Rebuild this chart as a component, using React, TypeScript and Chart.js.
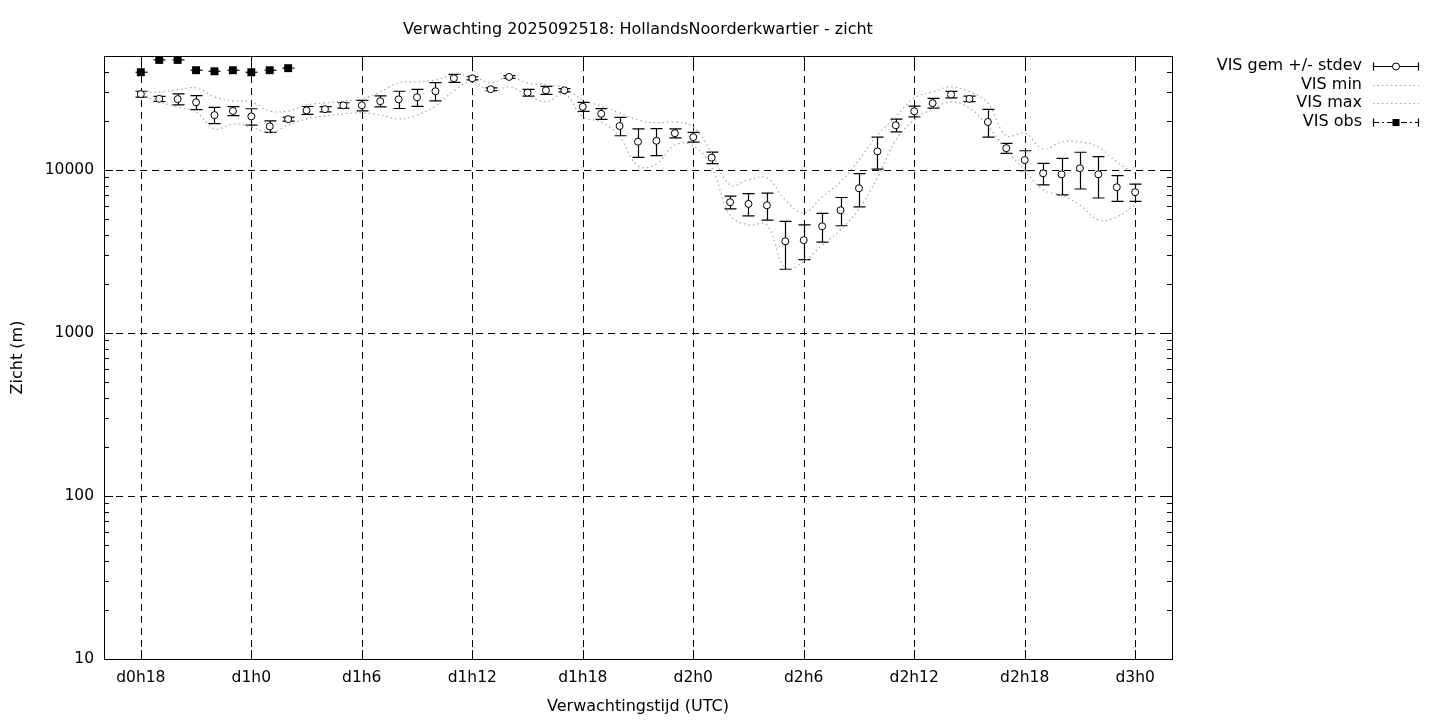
import React, { useEffect, useRef } from 'react';
import { Chart, registerables } from 'chart.js';

Chart.register(...registerables);

const TITLE = 'Verwachting 2025092518: HollandsNoorderkwartier - zicht';
const X_TITLE = 'Verwachtingstijd (UTC)';
const Y_TITLE = 'Zicht (m)';

const hours = [
  18, 19, 20, 21, 22, 23, 24, 25, 26, 27, 28, 29, 30, 31, 32, 33, 34, 35, 36,
  37, 38, 39, 40, 41, 42, 43, 44, 45, 46, 47, 48, 49, 50, 51, 52, 53, 54, 55,
  56, 57, 58, 59, 60, 61, 62, 63, 64, 65, 66, 67, 68, 69, 70, 71, 72,
];

const visMean = [
  29200, 27300, 27200, 26000, 21700, 23000, 21300, 18500, 20500, 23200, 23600,
  24900, 24900, 26400, 27100, 27900, 30400, 36500, 36500, 31300, 37200, 29800,
  30800, 30800, 24400, 22100, 18600, 14900, 15100, 16800, 15900, 11900, 6340,
  6190, 6070, 3650, 3710, 4510, 5660, 7720, 13000, 18800, 22900, 25700, 29000,
  27300, 19700, 13600, 11500, 9540, 9400, 10240, 9400, 7830, 7300,
];

const visStdev = [
  1200, 1000, 2100, 2580, 2480, 1480, 2440, 1520, 575, 1300, 880, 930, 1850,
  2040, 3280, 3330, 3880, 2080, 800, 600, 700, 1410, 1750, 700, 1540, 1650,
  2390, 2960, 2850, 1060, 1090, 980, 575, 965, 1145, 1190, 893, 900, 1114,
  1780, 2885, 1690, 1720, 1780, 1320, 1055, 3800, 960, 1610, 1440, 2370, 2600,
  2670, 1410, 890,
];

const visMin = [
  28850, 26140, 24350, 22690, 17850, 19150, 18360, 16870, 18890, 20550, 21450,
  22060, 22370, 21750, 20550, 21750, 24700, 30530, 34670, 30100, 32300, 28850,
  26140, 29260, 21150, 19700, 15940, 10580, 10880, 14230, 14040, 10400, 5295,
  4600, 4600, 2505, 2727, 3466, 4283, 5763, 8930, 15280, 20270, 23670, 26140,
  24010, 18620, 13260, 10000, 7540, 7025, 6100, 4935, 5150, 6100,
];

const visMax = [
  30100, 30100, 30960, 31850, 28040, 26500, 26140, 23010, 23010, 25050, 25760,
  26500, 27270, 30100, 34190, 34670, 35650, 38250, 37730, 34190, 37200, 34190,
  33230, 31850, 26880, 24700, 22370, 20270, 19430, 19700, 18360, 12710, 8090,
  8685, 8930, 6545, 5445, 6830, 8440, 11520, 16400, 21150, 27650, 30100, 32300,
  30100, 25760, 16170, 16870, 13450, 14850, 14850, 13840, 11200, 9450,
];

const obsHours = [18, 19, 20, 21, 22, 23, 24, 25, 26];
const visObs = [39750, 47300, 47300, 40900, 40300, 40900, 39750, 40900, 42100];

const xTickHours = [18, 24, 30, 36, 42, 48, 54, 60, 66, 72];
const xTickLabels = ['d0h18', 'd1h0', 'd1h6', 'd1h12', 'd1h18', 'd2h0', 'd2h6', 'd2h12', 'd2h18', 'd3h0'];
const yTickValues = [10, 100, 1000, 10000];
const yTickLabels = ['10', '100', '1000', '10000'];
const legendLabels = ['VIS gem +/- stdev', 'VIS min', 'VIS max', 'VIS obs'];

const FONT = '"DejaVu Sans", sans-serif';
const FONT_SIZE = 16;
const TICK_FONT_SIZE = 15.5;
const GRAY = '#a6a6a6';

const gnuplotPlugin = {
  id: 'gnuplotDecor',
  beforeDatasetsDraw(chart: any) {
    const { ctx, chartArea } = chart;
    const xs = chart.scales.x;
    const ys = chart.scales.y;
    const { left, right, top, bottom } = chartArea;
    ctx.save();
    // dashed grid
    ctx.strokeStyle = '#000';
    ctx.lineWidth = 1;
    ctx.setLineDash([7, 5]);
    for (const h of xTickHours) {
      const x = Math.round(xs.getPixelForValue(h)) + 0.5;
      ctx.beginPath();
      ctx.moveTo(x, bottom);
      ctx.lineTo(x, top);
      ctx.stroke();
    }
    for (const v of yTickValues) {
      const y = Math.round(ys.getPixelForValue(v)) + 0.5;
      if (y > bottom - 2) continue;
      ctx.beginPath();
      ctx.moveTo(left, y);
      ctx.lineTo(right, y);
      ctx.stroke();
    }
    ctx.setLineDash([]);
    // tick marks
    const yMin = ys.min;
    const yMax = ys.max;
    for (let d = 10; d <= yMax; d *= 10) {
      for (let m = 1; m <= 9; m++) {
        const v = d * m;
        if (v < yMin || v > yMax) continue;
        const y = Math.round(ys.getPixelForValue(v)) + 0.5;
        const len = m === 1 ? 9 : 5;
        ctx.beginPath();
        ctx.moveTo(left, y);
        ctx.lineTo(left + len, y);
        ctx.moveTo(right, y);
        ctx.lineTo(right - len, y);
        ctx.stroke();
      }
    }
    for (const h of xTickHours) {
      const x = Math.round(xs.getPixelForValue(h)) + 0.5;
      ctx.beginPath();
      ctx.moveTo(x, bottom);
      ctx.lineTo(x, bottom - 9);
      ctx.moveTo(x, top);
      ctx.lineTo(x, top + 9);
      ctx.stroke();
    }
    // error bars
    ctx.lineWidth = 1.2;
    for (let i = 0; i < hours.length; i++) {
      const x = Math.round(xs.getPixelForValue(hours[i])) + 0.5;
      const yTop = ys.getPixelForValue(visMean[i] + visStdev[i]);
      const yBot = ys.getPixelForValue(visMean[i] - visStdev[i]);
      ctx.beginPath();
      ctx.moveTo(x, yTop);
      ctx.lineTo(x, yBot);
      ctx.moveTo(x - 6, yTop);
      ctx.lineTo(x + 6, yTop);
      ctx.moveTo(x - 6, yBot);
      ctx.lineTo(x + 6, yBot);
      ctx.stroke();
    }
    for (let i = 0; i < obsHours.length; i++) {
      const x = Math.round(xs.getPixelForValue(obsHours[i])) + 0.5;
      const y = ys.getPixelForValue(visObs[i]);
      ctx.beginPath();
      ctx.moveTo(x - 6, y);
      ctx.lineTo(x + 6, y);
      ctx.stroke();
    }
    ctx.restore();
  },
  afterDraw(chart: any) {
    const { ctx, chartArea } = chart;
    const { left, right, top, bottom } = chartArea;
    ctx.save();
    // border
    ctx.strokeStyle = '#000';
    ctx.lineWidth = 1;
    ctx.strokeRect(Math.round(left) + 0.5, Math.round(top) + 0.5, Math.round(right - left), Math.round(bottom - top));
    // texts
    ctx.fillStyle = '#000';
    ctx.font = `${FONT_SIZE}px ${FONT}`;
    ctx.textBaseline = 'middle';
    ctx.textAlign = 'center';
    const cx = (left + right) / 2;
    ctx.fillText(TITLE, cx, 30);
    ctx.fillText(X_TITLE, cx, 707);
    ctx.save();
    ctx.translate(18, (top + bottom) / 2);
    ctx.rotate(-Math.PI / 2);
    ctx.fillText(Y_TITLE, 0, 0);
    ctx.restore();
    // legend
    const rows = [66, 85, 103, 122];
    const tx = 1362;
    const x0 = 1373;
    const x1 = 1419;
    const xm = 1396;
    ctx.textAlign = 'right';
    legendLabels.forEach((lab, i) => ctx.fillText(lab, tx, rows[i]));
    // row 0: errorbar sample
    ctx.lineWidth = 1.2;
    let y = rows[0] + 0.5;
    ctx.beginPath();
    ctx.moveTo(x0, y);
    ctx.lineTo(x1, y);
    ctx.moveTo(x0 + 0.5, y - 4);
    ctx.lineTo(x0 + 0.5, y + 4);
    ctx.moveTo(x1 - 0.5, y - 4);
    ctx.lineTo(x1 - 0.5, y + 4);
    ctx.stroke();
    ctx.beginPath();
    ctx.arc(xm, y, 3.5, 0, Math.PI * 2);
    ctx.fillStyle = '#fff';
    ctx.fill();
    ctx.lineWidth = 1;
    ctx.stroke();
    // rows 1-2: dotted
    ctx.strokeStyle = GRAY;
    ctx.setLineDash([1.5, 3]);
    for (const r of [rows[1], rows[2]]) {
      ctx.beginPath();
      ctx.moveTo(x0, r + 0.5);
      ctx.lineTo(x1, r + 0.5);
      ctx.stroke();
    }
    // row 3: obs
    ctx.strokeStyle = '#000';
    ctx.setLineDash([6, 3, 2, 3]);
    y = rows[3] + 0.5;
    ctx.beginPath();
    ctx.moveTo(x0, y);
    ctx.lineTo(x1, y);
    ctx.stroke();
    ctx.setLineDash([]);
    ctx.lineWidth = 1.2;
    ctx.beginPath();
    ctx.moveTo(x0 + 0.5, y - 4);
    ctx.lineTo(x0 + 0.5, y + 4);
    ctx.moveTo(x1 - 0.5, y - 4);
    ctx.lineTo(x1 - 0.5, y + 4);
    ctx.stroke();
    ctx.fillStyle = '#000';
    ctx.fillRect(xm - 3.5, y - 3.5, 7, 7);
    ctx.restore();
  },
};

export default function App() {
  const canvasRef = useRef<HTMLCanvasElement | null>(null);

  useEffect(() => {
    document.body.style.margin = '0';
    const canvas = canvasRef.current;
    if (!canvas) return;
    const chart = new Chart(canvas, {
      type: 'line',
      data: {
        datasets: [
          {
            label: legendLabels[0],
            data: hours.map((h, i) => ({ x: h, y: visMean[i] })),
            showLine: false,
            pointStyle: 'circle',
            pointRadius: 3.5,
            pointBackgroundColor: '#fff',
            pointBorderColor: '#000',
            pointBorderWidth: 1,
          },
          {
            label: legendLabels[1],
            data: hours.map((h, i) => ({ x: h, y: visMin[i] })),
            borderColor: GRAY,
            borderWidth: 1.2,
            borderDash: [1.5, 3],
            pointRadius: 0,
            tension: 0.4,
            fill: false,
          },
          {
            label: legendLabels[2],
            data: hours.map((h, i) => ({ x: h, y: visMax[i] })),
            borderColor: GRAY,
            borderWidth: 1.2,
            borderDash: [1.5, 3],
            pointRadius: 0,
            tension: 0.4,
            fill: false,
          },
          {
            label: legendLabels[3],
            data: obsHours.map((h, i) => ({ x: h, y: visObs[i] })),
            showLine: false,
            pointStyle: 'rect',
            pointRadius: 5.6,
            pointBackgroundColor: '#000',
            pointBorderColor: '#000',
            pointBorderWidth: 0,
          },
        ],
      },
      options: {
        animation: false,
        responsive: true,
        maintainAspectRatio: false,
        devicePixelRatio: 1,
        layout: { padding: { left: 0, right: 268, top: 56, bottom: 0 } },
        plugins: {
          legend: { display: false },
          title: { display: false },
          tooltip: { enabled: false },
        },
        scales: {
          x: {
            type: 'linear',
            min: 16,
            max: 74,
            grid: { display: false, drawTicks: false },
            border: { display: false },
            afterBuildTicks: (scale: any) => {
              scale.ticks = xTickHours.map((v) => ({ value: v }));
            },
            afterFit: (scale: any) => {
              scale.height = 61;
            },
            ticks: {
              autoSkip: false,
              maxRotation: 0,
              padding: 10,
              color: '#000',
              font: { family: FONT, size: TICK_FONT_SIZE },
              callback: (v: any) => xTickLabels[xTickHours.indexOf(Number(v))] ?? '',
            },
          },
          y: {
            type: 'logarithmic',
            min: 10,
            max: 50000,
            grid: { display: false, drawTicks: false },
            border: { display: false },
            afterBuildTicks: (scale: any) => {
              scale.ticks = yTickValues.map((v) => ({ value: v }));
            },
            afterFit: (scale: any) => {
              scale.width = 104;
            },
            ticks: {
              autoSkip: false,
              padding: 10,
              color: '#000',
              font: { family: FONT, size: TICK_FONT_SIZE },
              callback: (v: any) => yTickLabels[yTickValues.indexOf(Number(v))] ?? '',
            },
          },
        },
      },
      plugins: [gnuplotPlugin],
    });
    return () => chart.destroy();
  }, []);

  return (
    <div style={{ position: 'absolute', left: 0, top: 0, width: 1440, height: 720, background: '#fff' }}>
      <canvas ref={canvasRef} />
    </div>
  );
}
